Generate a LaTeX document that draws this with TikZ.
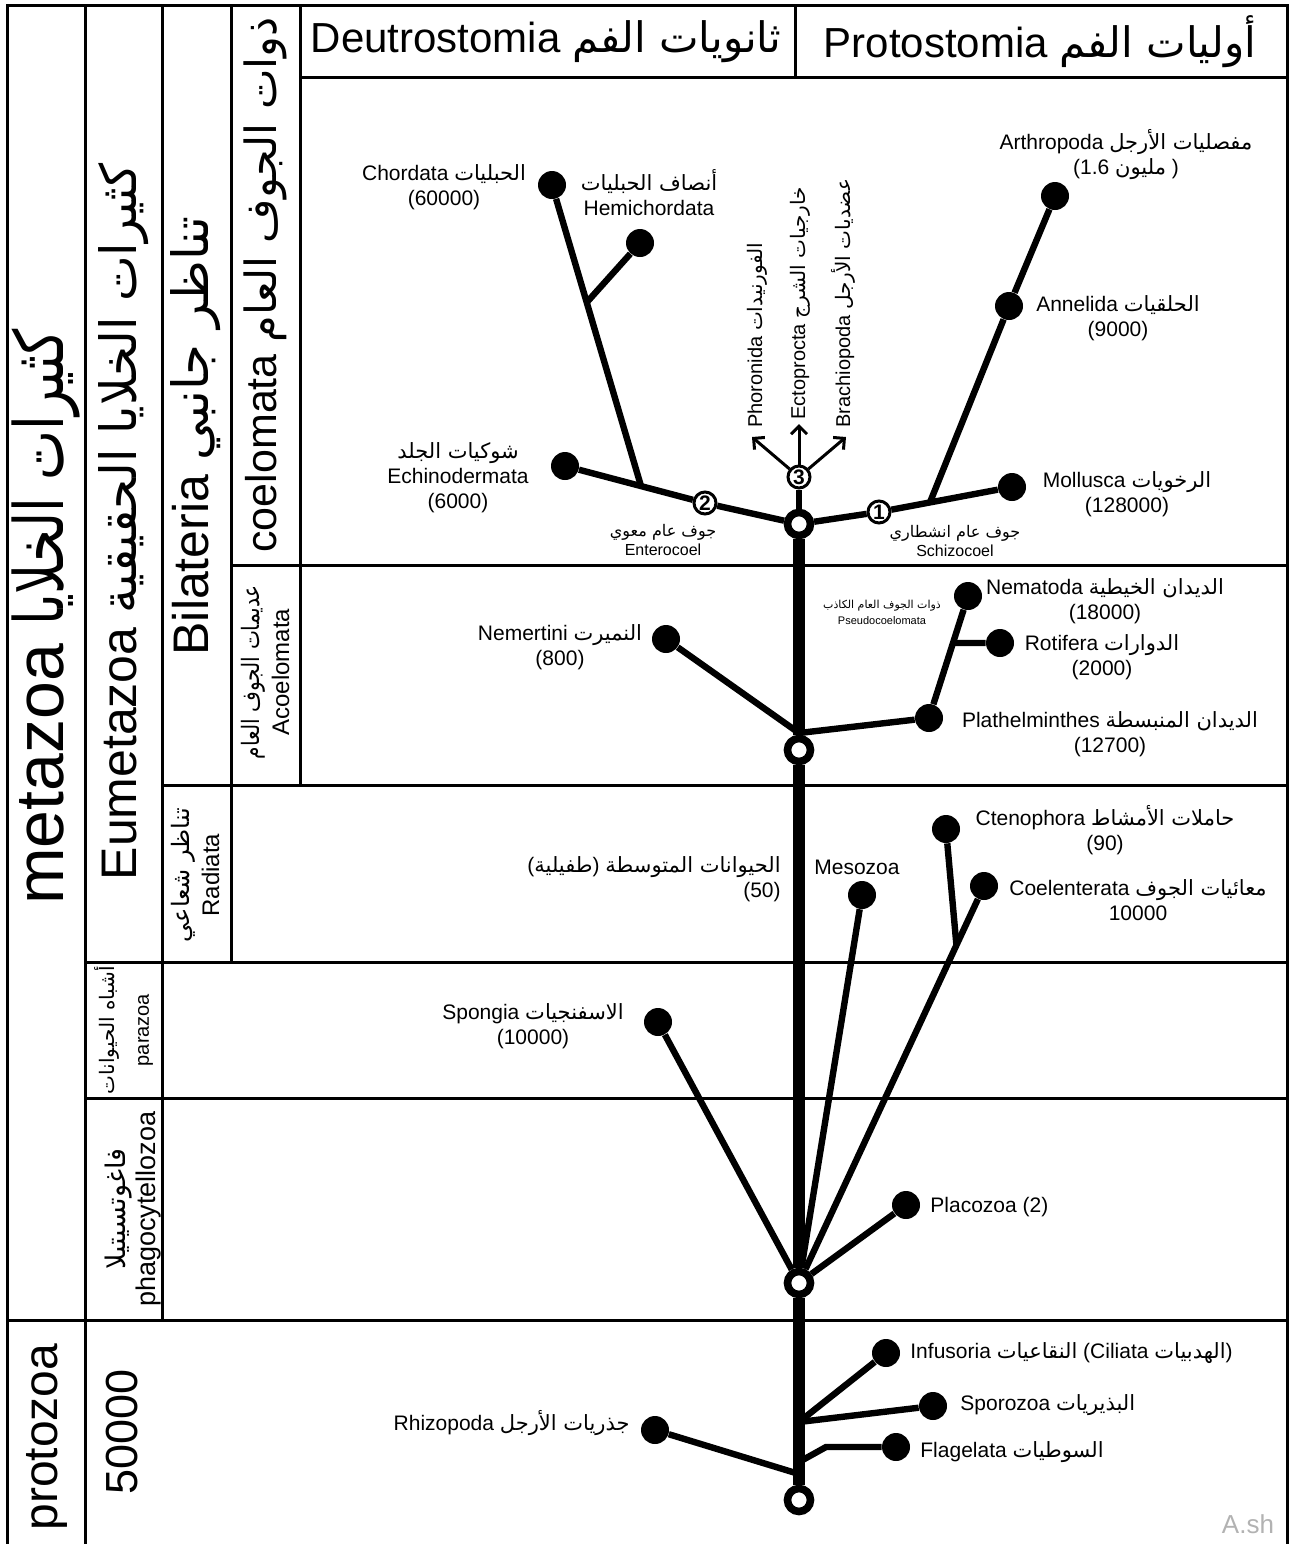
\documentclass[tikz,border=0pt]{standalone}
\usepackage{fontspec}
\usepackage{graphicx}
\setmainfont{Liberation Sans}
\newfontfamily\arabicfont[Script=Arabic]{DejaVu Sans}
\TeXXeTstate=1
\usetikzlibrary{calc,arrows.meta}
\newcommand{\arab}[1]{{\arabicfont\beginR#1\endR}}

\begin{document}
\begin{tikzpicture}[x=0.5pt,y=-0.5pt,
  grid/.style={line width=1.5pt},
  trunk/.style={line width=6pt},
  branch/.style={line width=3.2pt},
  tip/.style={line width=1.5pt,-{Straight Barb[length=4pt,width=8pt]}},
  dot/.style={circle,fill,inner sep=0pt,minimum size=14pt},
  hub/.style={circle,draw,fill=white,line width=3.8pt,inner sep=0pt,minimum size=11.5pt},
  num/.style={circle,draw,fill=white,line width=1.5pt,inner sep=0pt,minimum size=11pt,
    font=\fontsize{10.5}{10.5}\selectfont\bfseries},
  lbl/.style={align=center,inner sep=1pt,font=\fontsize{10.5}{12.5}\selectfont},
  small/.style={align=center,inner sep=1pt,font=\fontsize{8}{9.5}\selectfont},
  side/.style={rotate=90,align=center,inner sep=0pt}]
  \useasboundingbox (0,0) rectangle (1293,1544);

  % table
  \draw[grid] (7,1544) -- (7,5) -- (1287,5) -- (1287,1544);
  \draw[grid] (85,5) -- (85,1544);
  \draw[grid] (162,5) -- (162,1320);
  \draw[grid] (231,5) -- (231,962);
  \draw[grid] (300,5) -- (300,785);
  \draw[grid] (300,77) -- (1287,77);
  \draw[grid] (795,5) -- (795,77);
  \draw[grid] (231,565) -- (1287,565);
  \draw[grid] (162,785) -- (1287,785);
  \draw[grid] (85,962) -- (1287,962);
  \draw[grid] (85,1098) -- (1287,1098);
  \draw[grid] (7,1320) -- (1287,1320);

  \node[font=\fontsize{21}{24}\selectfont] (deutro) at (546,42) {Deutrostomia \arab{ثانويات الفم}};
  \node[font=\fontsize{21}{24}\selectfont] (proto) at (1040,42) {Protostomia \arab{أوليات الفم}};

  \node[side,font=\fontsize{34}{40}\selectfont] (metazoa) at (46,617) {metazoa \scalebox{0.78}[1]{\arabicfont\beginR كثيرات الخلايا\endR}};
  \node[side,font=\fontsize{25}{30}\selectfont] (eumeta) at (124,522) {Eumetazoa \scalebox{0.97}[1]{\arabicfont\beginR كثيرات الخلايا الحقيقية\endR}};
  \node[side,font=\fontsize{25}{30}\selectfont] (bilat) at (196,436) {Bilateria \arab{تناظر جانبي}};
  \node[side,font=\fontsize{21.5}{26}\selectfont] (coelom) at (265,285) {coelomata \arab{ذوات الجوف العام}};
  \node[side,font=\fontsize{12}{15}\selectfont] (acoelom) at (265,672) {\scalebox{0.84}[1]{\arabicfont\beginR عديمات الجوف العام\endR}\\Acoelomata};
  \node[side,font=\fontsize{12}{15}\selectfont] (radiata) at (195,875) {\arab{تناظر شعاعي}\\Radiata};
  \node[side,font=\fontsize{10}{17}\selectfont] (parazoa) at (124,1030) {\arab{أشباه الحيوانات}\\parazoa};
  \node[side,font=\fontsize{13.5}{15}\selectfont] (phago) at (133,1209) {\arab{فاغوتسيتيلا}\\phagocytellozoa};
  \node[side,font=\fontsize{24}{28}\selectfont] (protozoa) at (47,1437) {protozoa};
  \node[side,font=\fontsize{22.5}{26}\selectfont] (count) at (122,1432) {50000};

  % tree
  \node[hub] (root) at (799,1500) {};
  \node[hub] (base) at (799,1283) {};
  \node[hub] (acoel) at (799,750) {};
  \node[hub] (coel) at (799,524) {};
  \node[num] (c3) at (799,477) {3};
  \node[num] (c2) at (705,503) {2};
  \node[num] (c1) at (879,512) {1};

  \node[dot] (chordata) at (552,185) {};
  \node[dot] (hemichord) at (640,243) {};
  \node[dot] (echino) at (565,466) {};
  \node[dot] (arthro) at (1055,196) {};
  \node[dot] (annelida) at (1009,306) {};
  \node[dot] (mollusca) at (1012,487) {};
  \node[dot] (nematoda) at (968,596) {};
  \node[dot] (rotifera) at (1000,643) {};
  \node[dot] (plath) at (929,718) {};
  \node[dot] (nemertini) at (666,639) {};
  \node[dot] (cteno) at (946,829) {};
  \node[dot] (coelent) at (984,886) {};
  \node[dot] (mesozoa) at (862,895) {};
  \node[dot] (spongia) at (658,1022) {};
  \node[dot] (placozoa) at (906,1205) {};
  \node[dot] (infusoria) at (886,1353) {};
  \node[dot] (sporozoa) at (933,1406) {};
  \node[dot] (flagelata) at (896,1447) {};
  \node[dot] (rhizopoda) at (655,1430) {};

  \draw[trunk] (root) -- (base);
  \draw[trunk] (base) -- (acoel);
  \draw[trunk] (acoel) -- (coel);
  \draw[branch] (coel) -- (c3);

  \coordinate (phorTip) at (752,437);
  \coordinate (ectoTip) at (799,424);
  \coordinate (brachTip) at (846,437);
  \draw[tip] (c3) -- (phorTip);
  \draw[tip] (c3) -- (ectoTip);
  \draw[tip] (c3) -- (brachTip);

  \draw[branch] (coel) -- (c2);
  \draw[branch] (c2) -- (echino);
  \coordinate (chordJ) at ($(c2)!0.457!(echino)$);
  \draw[branch] (chordJ) -- (chordata);
  \coordinate (hemiJ) at ($(chordJ)!0.61!(chordata)$);
  \draw[branch] (hemiJ) -- (hemichord);

  \draw[branch] (coel) -- (c1);
  \draw[branch] (c1) -- (mollusca);
  \coordinate (arthJ) at ($(c1)!0.383!(mollusca)$);
  \draw[branch] (arthJ) -- (annelida);
  \draw[branch] (annelida) -- (arthro);

  \coordinate (acoelJ) at (799,733);
  \draw[branch] (acoelJ) -- (nemertini);
  \draw[branch] (acoelJ) -- (plath);
  \draw[branch] (plath) -- (nematoda);
  \coordinate (rotJ) at ($(plath)!0.615!(nematoda)$);
  \draw[branch] (rotJ) -- (rotifera);

  \draw[branch] (base) -- (spongia);
  \draw[branch] (base) -- (mesozoa);
  \draw[branch] (base) -- (coelent);
  \coordinate (ctenoJ) at ($(base)!0.851!(coelent)$);
  \draw[branch] (ctenoJ) -- (cteno);
  \draw[branch] (base) -- (placozoa);

  \coordinate (protoJa) at (799,1422);
  \coordinate (protoJb) at (799,1462);
  \coordinate (protoJc) at (799,1474);
  \coordinate (flagJ) at (826,1447);
  \draw[branch] (protoJa) -- (infusoria);
  \draw[branch] (protoJa) -- (sporozoa);
  \draw[branch] (protoJb) -- (flagJ) -- (flagelata);
  \draw[branch] (protoJc) -- (rhizopoda);

  % labels
  \node[side,anchor=west,font=\fontsize{10}{12}\selectfont] (phorLbl) at (757,428) {Phoronida \arab{الفورنيدات}};
  \node[side,anchor=west,font=\fontsize{10}{12}\selectfont] (ectoLbl) at (800,420) {Ectoprocta \arab{خارجيات الشرج}};
  \node[side,anchor=west,font=\fontsize{10}{12}\selectfont] (brachLbl) at (843,428) {Brachiopoda \arab{عضديات الأرجل}};

  \node[lbl] (chordLbl) at (444,187) {Chordata \arab{الحبليات}\\(60000)};
  \node[lbl] (hemiLbl) at (649,193) {\arab{أنصاف الحبليات}\\Hemichordata};
  \node[lbl] (echinoLbl) at (458,478) {\arab{شوكيات الجلد}\\Echinodermata\\(6000)};
  \node[small] (enteroLbl) at (663,540) {\arab{جوف عام معوي}\\Enterocoel};
  \node[small] (schizoLbl) at (955,541) {\arab{جوف عام انشطاري}\\Schizocoel};
  \node[lbl] (arthLbl) at (1126,155) {Arthropoda \arab{مفصليات الأرجل}\\(1.6 \arab{مليون} )};
  \node[lbl] (annLbl) at (1118,318) {Annelida \arab{الحلقيات}\\(9000)};
  \node[lbl] (mollLbl) at (1127,494) {Mollusca \arab{الرخويات}\\(128000)};
  \node[lbl] (nemaLbl) at (1105,601) {Nematoda \arab{الديدان الخيطية}\\(18000)};
  \node[align=center,inner sep=1pt,font=\fontsize{5.5}{8}\selectfont] (pseudoLbl) at (882,612) {\arab{ذوات الجوف العام الكاذب}\\Pseudocoelomata};
  \node[lbl] (rotLbl) at (1102,657) {Rotifera \arab{الدوارات}\\(2000)};
  \node[lbl] (plathLbl) at (1110,734) {Plathelminthes \arab{الديدان المنبسطة}\\(12700)};
  \node[lbl] (nemerLbl) at (560,647) {Nemertini \arab{النميرت}\\(800)};
  \node[lbl] (ctenoLbl) at (1105,830) {Ctenophora \arab{حاملات الأمشاط}\\(90)};
  \node[lbl] (coelentLbl) at (1138,900) {Coelenterata \arab{معائيات الجوف}\\10000};
  \node[lbl] (mesoLbl) at (857,867) {Mesozoa};
  \node[lbl,align=right,anchor=east] (mesoArLbl) at (783,879) {(\arab{طفيلية}) \arab{الحيوانات المتوسطة}\\(50)};
  \node[lbl] (spongLbl) at (533,1026) {Spongia \arab{الاسفنجيات}\\(10000)};
  \node[lbl,anchor=west] (placoLbl) at (928,1207) {Placozoa (2)};
  \node[lbl,anchor=west] (infuLbl) at (908,1353) {Infusoria \arab{النقاعيات} (Ciliata \arab{الهدبيات})};
  \node[lbl,anchor=west] (sporoLbl) at (958,1405) {Sporozoa \arab{البذيريات}};
  \node[lbl,anchor=west] (flagLbl) at (918,1452) {Flagelata \arab{السوطيات}};
  \node[lbl,anchor=east] (rhizoLbl) at (632,1423) {Rhizopoda \arab{جذريات الأرجل}};
  \node[gray!60,font=\fontsize{13}{13}\selectfont] (mark) at (1248,1524) {A.sh};
\end{tikzpicture}
\end{document}
